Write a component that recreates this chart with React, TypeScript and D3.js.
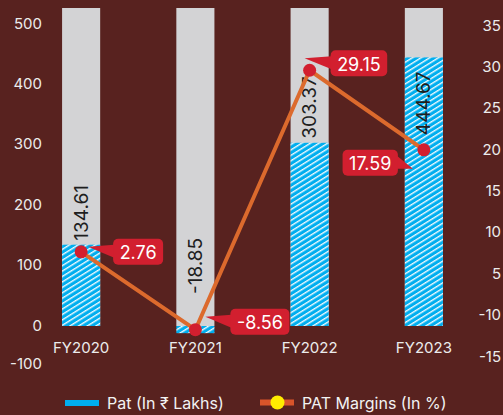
import { useEffect, useRef } from "react"
import * as d3 from "d3"

const years = ["FY2020", "FY2021", "FY2022", "FY2023"]
const pat = [134.61, -18.85, 303.37, 444.67]
const patMargin = [2.76, -8.56, 29.15, 17.59]
const leftTicks = [500, 400, 300, 200, 100, 0, -100]
const rightTicks = ["35", "30", "25", "20", "15", "10", "5", "-10", "-15"]

// where each margin callout sits relative to its point
const callouts = [
    { side: "right", gap: 32, dy: 0, tx: 7, ty: -5 },
    { side: "right", gap: 35, dy: -8, tx: 10, ty: -13 },
    { side: "right", gap: 21, dy: -7, tx: -5, ty: -12 },
    { side: "left", gap: 26, dy: 13, tx: -11, ty: 19 },
]

export default function App() {
    const chart = useRef<SVGSVGElement>(null)
    const { width, height } = { width: 503, height: 415 }

    useEffect(() => {
        const svg = d3.select(chart.current)
        svg.selectAll("*").remove()
        const font = "Inter, 'Noto Sans', 'DejaVu Sans', sans-serif"
        const top = 8

        svg.append("rect").attr("width", width).attr("height", height).attr("fill", "#58221f")

        const pattern = svg.append("defs").append("pattern")
            .attr("id", "hatch")
            .attr("patternUnits", "userSpaceOnUse")
            .attr("width", 10).attr("height", 4.6)
            .attr("patternTransform", "rotate(-32)")
        pattern.append("rect").attr("width", 10).attr("height", 4.6).attr("fill", "#00aeef")
        pattern.append("line")
            .attr("x1", 0).attr("x2", 10).attr("y1", 0.7).attr("y2", 0.7)
            .attr("stroke", "#fff").attr("stroke-width", 1.3)

        const x = d3.scaleBand().domain(years).range([24, 481]).paddingInner(2 / 3).paddingOuter(1 / 3)
        const y = d3.scaleLinear().domain([-100, 0, 500]).range([364, 326, 24])
        const y2 = d3.scaleLinear().domain([-15, 35]).range([374, 30])
        const yTick = d3.scalePoint().domain(rightTicks).range([25, 356])
        const cx = (d: string) => (x(d) as number) + x.bandwidth() / 2

        // left axis
        svg.append("g").selectAll("text").data(leftTicks).enter().append("text")
            .attr("x", 42).attr("y", d => y(d) - 1)
            .attr("text-anchor", "end").attr("dominant-baseline", "central")
            .attr("font-family", font).attr("font-size", 15).attr("fill", "#ececec")
            .text(d => d)

        // right axis
        svg.append("g").selectAll("text").data(rightTicks).enter().append("text")
            .attr("x", 501).attr("y", d => yTick(d) as number)
            .attr("text-anchor", "end").attr("dominant-baseline", "central")
            .attr("font-family", font).attr("font-size", 15).attr("fill", "#ececec")
            .text(d => d)

        // x labels
        svg.append("g").selectAll("text").data(years).enter().append("text")
            .attr("x", d => cx(d)).attr("y", 347)
            .attr("text-anchor", "middle").attr("dominant-baseline", "central")
            .attr("font-family", font).attr("font-size", 15).attr("fill", "#ececec")
            .text(d => d)

        // bars
        svg.append("g").selectAll("rect").data(years).enter().append("rect")
            .attr("x", d => x(d) as number).attr("y", top)
            .attr("width", x.bandwidth()).attr("height", y(0) - top)
            .attr("fill", "#d3d3d5")

        svg.append("g").selectAll("rect").data(pat).enter().append("rect")
            .attr("x", (d, i) => x(years[i]) as number)
            .attr("y", d => Math.min(y(d), y(0)))
            .attr("width", x.bandwidth())
            .attr("height", d => Math.abs(y(d) - y(0)))
            .attr("fill", "url(#hatch)")

        // bar value labels
        pat.forEach((v, i) => {
            const t = svg.append("text")
                .attr("text-anchor", "start").attr("dominant-baseline", "central")
                .attr("font-family", font).attr("font-size", 19).attr("fill", "#1e1e1e")
                .text(v.toFixed(2))
            const len = (t.node() as SVGTextElement).getComputedTextLength()
            let anchor = v < 0 ? y(0) - 32 : y(v) - 4
            if (anchor - len < top + 4) anchor = y(v) + 14 + len
            t.attr("transform", `translate(${cx(years[i])},${anchor}) rotate(-90)`)
        })

        // margin line
        const line = d3.line<number>()
            .x((d, i) => cx(years[i]))
            .y(d => y2(d))
        svg.append("path").datum(patMargin)
            .attr("d", line)
            .attr("fill", "none").attr("stroke", "#dc6a2d").attr("stroke-width", 4)
            .attr("stroke-linejoin", "round")

        svg.append("g").selectAll("circle").data(patMargin).enter().append("circle")
            .attr("cx", (d, i) => cx(years[i])).attr("cy", d => y2(d))
            .attr("r", 6.5).attr("fill", "#d21f2f")

        // callouts
        patMargin.forEach((v, i) => {
            const c = callouts[i]
            const px = cx(years[i]), py = y2(v)
            const g = svg.append("g")
            const tri = g.append("path").attr("fill", "#d21f2f")
            const box = g.append("rect").attr("fill", "#d21f2f").attr("rx", 5)
            const t = g.append("text")
                .attr("text-anchor", "middle").attr("dominant-baseline", "central")
                .attr("font-family", font).attr("font-size", 18).attr("fill", "#fff")
                .text(v.toFixed(2))
            const w = (t.node() as SVGTextElement).getComputedTextLength() + 13
            const h = 26
            const left = c.side === "right" ? px + c.gap : px - c.gap - w
            const cy = py + c.dy
            box.attr("x", left).attr("y", cy - h / 2).attr("width", w).attr("height", h)
            t.attr("x", left + w / 2).attr("y", cy + 1)
            const edge = c.side === "right" ? left + 1 : left + w - 1
            tri.attr("d", `M${px + c.tx},${py + c.ty}L${edge},${cy - 7}L${edge},${cy + 6}Z`)
        })

        // legend
        const lg = svg.append("g").attr("font-family", font).attr("font-size", 16).attr("fill", "#f2f2f2")
        lg.append("rect").attr("x", 65).attr("y", 400).attr("width", 34).attr("height", 6).attr("fill", "#00aeef")
        lg.append("text").attr("x", 107).attr("y", 403).attr("dominant-baseline", "central").text("Pat (In ₹ Lakhs)")
        lg.append("line").attr("x1", 260).attr("x2", 294).attr("y1", 402.5).attr("y2", 402.5)
            .attr("stroke", "#d9542a").attr("stroke-width", 6)
        lg.append("circle").attr("cx", 277.5).attr("cy", 402.5).attr("r", 7).attr("fill", "#ffec00")
        lg.append("text").attr("x", 302).attr("y", 403).attr("dominant-baseline", "central").text("PAT Margins (In %)")
    }, [])

    return (
        <div style={{ position: "absolute", left: 0, top: 0, width, height }}>
            <svg ref={chart} width={width} height={height} style={{ display: "block" }}></svg>
        </div>
    )
}
